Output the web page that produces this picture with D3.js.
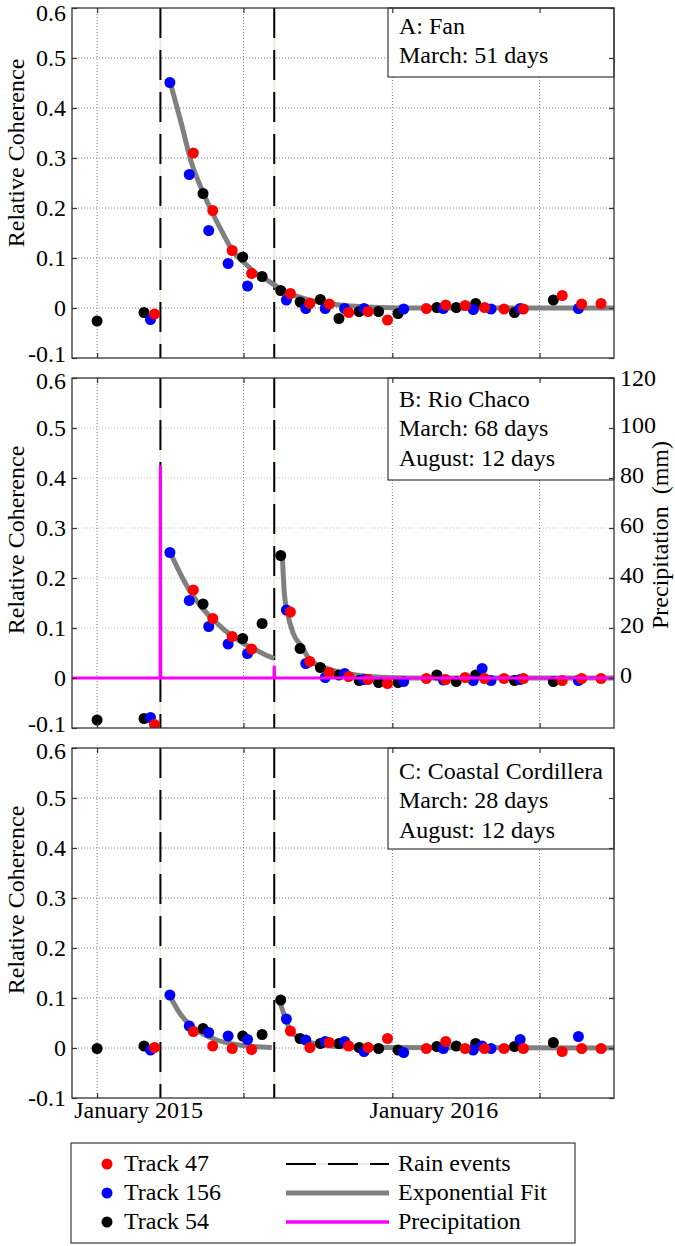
<!DOCTYPE html>
<html><head><meta charset="utf-8">
<script src="https://cdn.jsdelivr.net/npm/d3@7"></script>
<style>
html,body{margin:0;padding:0;background:#fff;}
svg{display:block;}
svg text{font-family:"Liberation Serif","Times New Roman",Tinos,"DejaVu Serif",serif !important;}
</style></head><body>
<svg id="chart" width="675" height="1246"></svg>
<script>
// ---------------- DATA (days counted from 2015-01-01) ----------------
const track54Days  = [0, 58, 131, 180, 204, 227, 251, 276, 299, 324, 348, 372, 420, 444, 468, 516, 564];
const track156Days = [66, 90, 114, 138, 162, 186, 234, 258, 282, 306, 330, 379, 428, 465, 476, 487, 523, 595];
const track47Days  = [71, 119, 143, 167, 191, 239, 263, 287, 311, 335, 359, 407, 431, 455, 479, 503, 527, 575, 599, 623];

// Panel A: Fan
const fan47  = [-0.012, 0.31, 0.195, 0.115, 0.069, 0.029, 0.009, 0.008, -0.009, -0.007, -0.024, -0.001, 0.006, 0.005, 0.001, -0.002, -0.002, 0.025, 0.008, 0.009];
const fan156 = [-0.023, 0.451, 0.267, 0.155, 0.089, 0.044, 0.016, -0.001, -0.001, -0.001, -0.001, -0.002, -0.001, -0.003, null, -0.002, -0.001, -0.001];
const fan54  = [-0.026, -0.009, 0.229, 0.102, 0.063, 0.035, 0.012, 0.017, -0.021, -0.007, -0.007, -0.011, 0.001, 0.001, 0.009, -0.009, 0.016];
// Panel B: Rio Chaco
const chaco47  = [-0.093, 0.176, 0.119, 0.083, 0.058, 0.132, 0.033, 0.011, 0.003, -0.003, -0.011, -0.001, -0.003, 0.001, -0.001, -0.001, -0.001, -0.005, -0.001, -0.001];
const chaco156 = [-0.079, 0.251, 0.155, 0.103, 0.068, 0.049, 0.136, 0.029, 0.001, 0.009, -0.003, -0.007, -0.004, -0.005, 0.019, -0.005, -0.003, -0.005];
const chaco54  = [-0.084, -0.081, 0.148, 0.079, 0.109, 0.245, 0.059, 0.021, 0.006, -0.005, -0.009, -0.009, 0.006, -0.007, 0.006, -0.005, -0.007];
// Panel C: Coastal Cordillera
const coast47  = [0.001, 0.033, 0.004, -0.001, -0.003, 0.034, 0.001, 0.011, 0.004, 0.001, 0.019, -0.001, 0.013, -0.001, -0.001, -0.001, -0.001, -0.007, -0.001, -0.001];
const coast156 = [-0.004, 0.106, 0.044, 0.031, 0.024, 0.017, 0.058, 0.016, 0.013, 0.013, -0.007, -0.009, -0.001, -0.004, 0.004, -0.001, 0.017, 0.023];
const coast54  = [-0.001, 0.004, 0.039, 0.024, 0.027, 0.096, 0.019, 0.009, 0.009, 0.001, -0.001, -0.004, 0.003, 0.004, 0.009, 0.003, 0.011];

// Exponential fit curves: [day, relative coherence]
const fitFanMarch   = [[90.5,0.451],[104,0.37],[117,0.289],[130,0.235],[143,0.189],[156,0.148],[168,0.113],[183,0.089],[196,0.07],[210,0.056],[224,0.041],[238,0.029],[260,0.017],[285,0.009],[315,0.004],[350,0.001],[400,0],[639,0]];
const fitChacoMarch = [[90.5,0.251],[104,0.205],[117,0.168],[132,0.136],[144,0.116],[156,0.098],[168,0.083],[181,0.069],[193,0.059],[206,0.048],[219,0.039]];
const fitChacoAug   = [[229,0.246],[231.5,0.169],[235,0.133],[242.5,0.089],[253,0.063],[263,0.036],[278,0.023],[296,0.013],[325,0.005],[360,0.001],[400,0],[639,0]];
const fitCoastMarch = [[89.3,0.106],[102.5,0.069],[115,0.046],[131,0.028],[148,0.016],[168,0.008],[193,0.003],[216,0.001]];
const fitCoastAug   = [[225.3,0.096],[232,0.063],[238.5,0.036],[251,0.019],[271.5,0.008],[296,0.003],[330,0.001],[639,0]];

// Precipitation (Rio Chaco), mm
const precipDays = [-31, 78, 78.3, 78.6, 218.7, 219, 219.3, 639];
const precipMM   = [0, 0, 84.5, 0, 0, 4.5, 0, 0];

const rainEventDays = [78.3, 219];
const xDomainDays = [-31, 639];
const gridDates = ["2015-01-01", "2015-07-01", "2016-01-01", "2016-07-01"];
const cohTickValues = [-0.1, 0, 0.1, 0.2, 0.3, 0.4, 0.5, 0.6];
const precipTickValues = [0, 20, 40, 60, 80, 100, 120];

const panelTitles = ["A: Fan", "B: Rio Chaco", "C: Coastal Cordillera"];
const panelNotes = [["March: 51 days"], ["March: 68 days", "August: 12 days"], ["March: 28 days", "August: 12 days"]];
const trackNames = ["Track 47", "Track 156", "Track 54"];
const lineLegendNames = ["Rain events", "Exponential Fit", "Precipitation"];

// ---------------- DRAWING ----------------
const FONT = '"Liberation Serif","Times New Roman",Tinos,"DejaVu Serif",serif';
const day0 = Date.UTC(2015, 0, 1);
const toDate = d => new Date(day0 + d * 864e5);

const svg = d3.select("#chart");
const L = 72, R = 614;
const x = d3.scaleUtc().domain(xDomainDays.map(toDate)).range([L, R]);
const gridD = gridDates.map(s => new Date(s + "T00:00:00Z"));

const colors = {t47: "#ff0000", t156: "#0000ff", t54: "#000000"};

const panels = [
  {top: 8, s47: fan47, s156: fan156, s54: fan54, fits: [fitFanMarch], precip: false,
   box: {h: 69, offs: [26, 55]}, labelY: 153, gridH: "#808080"},
  {top: 378, s47: chaco47, s156: chaco156, s54: chaco54, fits: [fitChacoMarch, fitChacoAug], precip: true,
   box: {h: 102, offs: [29, 58, 88]}, labelY: 540, gridH: "#c0c0c0"},
  {top: 748, s47: coast47, s156: coast156, s54: coast54, fits: [fitCoastMarch, fitCoastAug], precip: false,
   box: {h: 101, offs: [31, 60, 90]}, labelY: 900, gridH: "#808080"}
];

const fmtCoh = v => String(Math.round(v * 10) / 10);

panels.forEach((p, pi) => {
  const top = p.top, bottom = top + 350;
  const y = d3.scaleLinear().domain([-0.1, 0.6]).range([bottom, top]);
  const g = svg.append("g");
  const clipId = "clip" + pi;
  g.append("clipPath").attr("id", clipId).append("rect")
    .attr("x", L).attr("y", top).attr("width", R - L).attr("height", 350);

  // grid
  g.append("g").selectAll("line").data(cohTickValues.filter(v => v > -0.1 && v < 0.6)).join("line")
    .attr("x1", L).attr("x2", R).attr("y1", d => y(d)).attr("y2", d => y(d))
    .attr("stroke", p.gridH).attr("stroke-width", 1).attr("stroke-dasharray", "1,2");
  g.append("g").selectAll("line").data(gridD).join("line")
    .attr("x1", d => x(d)).attr("x2", d => x(d)).attr("y1", top).attr("y2", bottom)
    .attr("stroke", "#808080").attr("stroke-width", 1).attr("stroke-dasharray", "1,2");

  const plot = g.append("g").attr("clip-path", `url(#${clipId})`);

  // rain events
  rainEventDays.forEach(d => {
    plot.append("line").attr("x1", x(toDate(d))).attr("x2", x(toDate(d)))
      .attr("y1", top).attr("y2", bottom).attr("stroke", "#f5e8d8").attr("stroke-width", 2);
    plot.append("line").attr("x1", x(toDate(d))).attr("x2", x(toDate(d)))
      .attr("y1", top).attr("y2", bottom).attr("stroke", "#000").attr("stroke-width", 2)
      .attr("stroke-dasharray", "30,12");
  });

  // fits
  const fitLine = d3.line().x(d => x(toDate(d[0]))).y(d => y(d[1])).curve(d3.curveMonotoneX);
  p.fits.forEach(f => {
    plot.append("path").attr("d", fitLine(f)).attr("fill", "none")
      .attr("stroke", "#808080").attr("stroke-width", 5).attr("stroke-linecap", "butt");
  });

  // points: black, blue, red
  const tracks = [[track54Days, p.s54, colors.t54], [track156Days, p.s156, colors.t156], [track47Days, p.s47, colors.t47]];
  tracks.forEach(([days, vals, col]) => {
    const data = days.map((d, i) => ({d, v: vals[i]})).filter(o => o.v !== null && o.v !== undefined);
    plot.append("g").selectAll("circle").data(data).join("circle")
      .attr("cx", o => x(toDate(o.d))).attr("cy", o => y(o.v)).attr("r", 5.5).attr("fill", col);
  });

  // precipitation
  let yP = null;
  if (p.precip) {
    yP = d3.scaleLinear().domain([-20, 120]).range([bottom, top]);
    const pdata = precipDays.map((d, i) => [d, precipMM[i]]);
    plot.append("path").attr("d", d3.line().x(d => x(toDate(d[0]))).y(d => yP(d[1]))(pdata))
      .attr("fill", "none").attr("stroke", "#ff00ff").attr("stroke-width", 3.2).attr("stroke-linejoin", "round");
  }

  // info box
  const bx = 388;
  g.append("rect").attr("x", bx).attr("y", top).attr("width", R - bx).attr("height", p.box.h)
    .attr("fill", "#fff").attr("stroke", "#3a3a3a").attr("stroke-width", 1.2);
  const lines = [panelTitles[pi]].concat(panelNotes[pi]);
  g.append("g").selectAll("text").data(lines).join("text")
    .attr("x", 399).attr("y", (d, i) => top + p.box.offs[i]).text(d => d)
    .attr("font-family", FONT).attr("font-size", 24).attr("fill", "#000");

  // frame
  g.append("rect").attr("x", L).attr("y", top).attr("width", R - L).attr("height", 350)
    .attr("fill", "none").attr("stroke", "#333").attr("stroke-width", 1.3);

  // axes
  const styleAxis = sel => {
    sel.attr("font-family", FONT).attr("font-size", 24);
    sel.select(".domain").remove();
    sel.selectAll(".tick line").attr("stroke", "#333").attr("stroke-width", 1.2);
    sel.selectAll(".tick text").attr("fill", "#000");
  };
  const leftAx = g.append("g").attr("transform", `translate(${L},0)`)
    .call(d3.axisLeft(y).tickValues(cohTickValues).tickSizeInner(-5).tickSizeOuter(0).tickPadding(6).tickFormat(fmtCoh))
    .call(styleAxis);
  leftAx.selectAll(".tick text").attr("dy", d => {
    if (d === 0.6) return pi === 0 ? "0.5em" : "0.45em";
    if (d === -0.1 && pi < panels.length - 1) return "0.16em";
    return "0.32em";
  });

  if (p.precip) {
    const rightAx = g.append("g").attr("transform", `translate(${R},0)`)
      .call(d3.axisRight(yP).tickValues(precipTickValues).tickSizeInner(-5).tickSizeOuter(0).tickPadding(6))
      .call(styleAxis);
    rightAx.selectAll(".tick text").attr("dy", d => d === 120 ? "0.32em" : "0.2em");
    g.append("text").attr("transform", `translate(668,535) rotate(-90)`)
      .attr("text-anchor", "middle").attr("font-family", FONT).attr("font-size", 24)
      .style("white-space", "pre").attr("xml:space", "preserve").text("Precipitation  (mm)");
  } else {
    g.append("g").attr("transform", `translate(${R},0)`)
      .call(d3.axisRight(y).tickValues(cohTickValues).tickSizeInner(-5).tickSizeOuter(0).tickFormat(""))
      .call(styleAxis);
  }
  const isLast = pi === panels.length - 1;
  const fmtMonth = d3.utcFormat("%B %Y");
  const botAx = g.append("g").attr("transform", `translate(0,${bottom})`)
    .call(d3.axisBottom(x).tickValues(gridD).tickSizeInner(-5).tickSizeOuter(0).tickPadding(3)
      .tickFormat(d => isLast && d.getUTCMonth() === 0 ? fmtMonth(d) : ""))
    .call(styleAxis);
  botAx.selectAll(".tick text").attr("dx", 41);
  g.append("g").attr("transform", `translate(0,${top})`)
    .call(d3.axisTop(x).tickValues(gridD).tickSizeInner(-5).tickSizeOuter(0).tickFormat(""))
    .call(styleAxis);

  // y label
  g.append("text").attr("transform", `translate(24,${p.labelY}) rotate(-90)`)
    .attr("text-anchor", "middle").attr("font-family", FONT).attr("font-size", 24)
    .attr("fill", "#000").text("Relative Coherence");
});

// ---------------- LEGEND ----------------
const lg = svg.append("g");
lg.append("rect").attr("x", 71).attr("y", 1143).attr("width", 504).attr("height", 100)
  .attr("fill", "#fff").attr("stroke", "#3a3a3a").attr("stroke-width", 1.2);
const rowY = [1171, 1200, 1229];
const trackCols = [colors.t47, colors.t156, colors.t54];
trackNames.forEach((n, i) => {
  lg.append("circle").attr("cx", 107).attr("cy", rowY[i] - 7).attr("r", 5.5).attr("fill", trackCols[i]);
  lg.append("text").attr("x", 124).attr("y", rowY[i]).text(n)
    .attr("font-family", FONT).attr("font-size", 24).attr("fill", "#000");
});
const lx1 = 286, lx2 = 389;
lg.append("line").attr("x1", lx1).attr("x2", lx2).attr("y1", rowY[0] - 7).attr("y2", rowY[0] - 7)
  .attr("stroke", "#f5e8d8").attr("stroke-width", 2);
lg.append("line").attr("x1", lx1).attr("x2", lx2).attr("y1", rowY[0] - 7).attr("y2", rowY[0] - 7)
  .attr("stroke", "#000").attr("stroke-width", 2).attr("stroke-dasharray", "30,12");
lg.append("line").attr("x1", lx1).attr("x2", lx2).attr("y1", rowY[1] - 7).attr("y2", rowY[1] - 7)
  .attr("stroke", "#808080").attr("stroke-width", 5);
lg.append("line").attr("x1", lx1).attr("x2", lx2).attr("y1", rowY[2] - 7).attr("y2", rowY[2] - 7)
  .attr("stroke", "#ff00ff").attr("stroke-width", 3.5);
lineLegendNames.forEach((n, i) => {
  lg.append("text").attr("x", 398).attr("y", rowY[i]).text(n)
    .attr("font-family", FONT).attr("font-size", 24).attr("fill", "#000");
});
</script>
</body></html>
